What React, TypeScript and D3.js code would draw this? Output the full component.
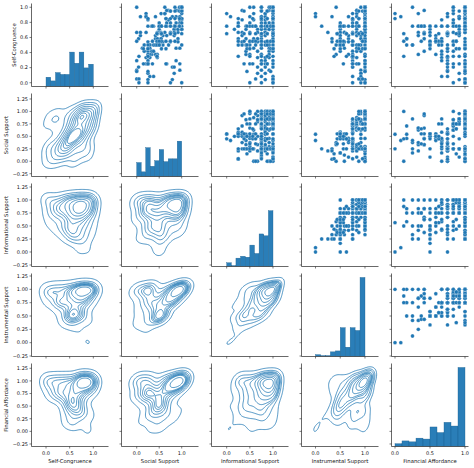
import React, { useMemo } from "react";
import * as d3 from "d3";

// ---------- data (one entry per respondent) ----------
const variables = [
  "Self-Congruence",
  "Social Support",
  "Informational Support",
  "Instrumental Support",
  "Financial Affordance",
];

const selfCongruence = [
  0.917, 0.875, 0.708, 0.667, 0.75, 0.583, 0.5, 0.792, 0.542, 0.667,
  0.5, 0.833, 0.542, 0.958, 0.625, 0.375, 0.5, 0.417, 0.75, 0.708,
  0.583, 0.875, 0.375, 0.792, 0.25, 0.5, 0.542, 0, 0.75, 0.667,
  1, 0.458, 0.583, 0.833, 0.917, 0.542, 0.208, 0.708, 0.333, 0.667,
  0.583, 0.417, 0.125, 0.75, 0.292, 0.167, 0.958, 0.375, 0.875, 0.5,
  0.375, 0.875, 0.458, 0.75, 0.708, 0.25, 1, 0.792, 0.5, 0.583,
  0.625, 0.083, 0.833, 0.542, 0.708, 0.333, 0.667, 0.917, 0.125, 0.292,
  0.667, 0.875, 0.917, 0.5, 0.833, 0.542, 0.75, 0.792, 0.667, 0.208,
  0.042, 0.25, 0.667, 0.625, 0.5, 0.708, 0.958, 0.417, 0.708, 0.542,
  0.375, 0.792, 0.167, 1, 0.458, 0.333, 0.75, 0.875, 0.667, 0.542,
  0.083, 0.917, 0.833, 0.292, 0.958, 0.625, 0.875, 0.583, 0, 0.792,
  0.5, 0.667, 0.958, 0.208, 0.042, 0.708, 0.417, 0.458, 0.75, 0.625,
  0.75, 0.65, 0.75, 0.55, 0.35, 0.85, 0.65, 0.55, 0.95, 0.25,
  0.45, 0.5, 0.15, 0.75, 0.55, 0.45, 0.65, 0.35, 1, 0.55,
  0.25, 0.75, 0.85, 0.65, 0.55, 0.5, 0.75, 0.05, 0.75, 0.55,
  0.25, 0.95, 0.75, 0.65, 0.85, 0, 0.55, 0.75, 0.35, 0.65,
  0.5, 1, 0.75, 0.95, 0.25, 0.85, 0.25, 0.65, 0.75, 0.95,
  0.35, 0.85, 0.5, 0.75, 0.55, 0.65, 0.15, 0.75, 1, 0.45,
  0.55, 0.75, 0.95, 0.25, 0.85, 0.05, 0.75, 0.65, 0.45, 0.85,
  1, 0.55, 0, 0.95, 0.35, 0.85, 0.45, 0.75, 0.65, 1,
];

const socialSupport = [
  0.542, 0.417, 0.5, 0.208, 0.542, 0.042, 0.583, 0.5, 0.25, 0.5,
  0.375, 0.708, 0.542, 0.917, 0.583, 0.333, 0.5, 0.25, 0.542, 0.833,
  0.417, 0.208, 0.458, 0.667, 0.958, 0.292, 0.5, 1, 0.375, 0.75,
  0, 0.875, 0.542, 0.25, 0.625, 0.5, 0.792, 1, 0.208, 0,
  0.917, 0.333, 0.833, 0.5, 0.25, 0.958, 0.708, 0.292, 0.083, 1,
  0.417, 0.875, 0.125, 0.667, 0.917, 0.208, 1, 0.75, 0.167, 0.458,
  0.833, 0.375, 0.958, 0.458, 1, 0.292, 0.625, 0.625, 0.25, 0.875,
  0.542, 0.792, 0.208, 0.708, 1, 0.583, 0.333, 0.958, 0.458, 0.833,
  0.25, 0.667, 0.917, 0.417, 0.292, 0.833, 1, 0.375, 0.917, 0.75,
  0.25, 0.875, 0, 0.625, 0.958, 0.458, 1, 0.208, 0.833, 0.917,
  0.292, 1, 0.708, 0, 0.875, 0.083, 0.958, 0.542, 0.75, 1,
  0.417, 0.083, 0.667, 0.042, 0.792, 1, 0.167, 0.292, 0.833, 0.667,
  0.55, 0.45, 0.25, 0.55, 0.05, 0.65, 0.45, 0.55, 0.95, 0.25,
  0.15, 0.5, 0.25, 0.75, 0.35, 0.55, 1, 0.25, 0.85, 0.45,
  0.65, 0.5, 0.25, 0.55, 0.75, 0.45, 0.95, 0, 0.35, 0.5,
  0.25, 0.85, 0.65, 0.45, 1, 0.05, 0.75, 0.55, 0.25, 0.85,
  0.5, 0.95, 0.35, 1, 0.25, 0.65, 0.15, 0.55, 0.85, 0.75,
  0.45, 1, 0.25, 0.95, 0, 0.75, 0, 0.65, 1, 0.25,
  0.85, 0.95, 1, 0.35, 0.75, 0.05, 0.95, 0.55, 0.25, 0.85,
  1, 0.65, 0.25, 0.75, 0.45, 0.95, 0.65, 0.85, 0.75, 1,
];

const informationalSupport = [
  0, 0.083, 0.167, 0.25, 0.25, 0.25, 0.25, 0.25, 0.333, 0.333,
  0.333, 0.333, 0.333, 0.333, 0.333, 0.417, 0.417, 0.417, 0.417, 0.417,
  0.417, 0.5, 0.5, 0.5, 0.5, 0.5, 0.5, 0.5, 0.5, 0.5,
  0.583, 0.583, 0.583, 0.583, 0.583, 0.667, 0.667, 0.667, 0.667, 0.667,
  0.667, 0.667, 0.667, 0.75, 0.75, 0.75, 0.75, 0.75, 0.75, 0.75,
  0.75, 0.75, 0.75, 0.75, 0.75, 0.75, 0.75, 0.75, 0.75, 0.75,
  0.75, 0.75, 0.75, 0.75, 0.833, 0.833, 0.833, 0.833, 0.833, 0.833,
  0.833, 0.833, 0.833, 0.833, 0.833, 0.833, 0.833, 0.833, 0.833, 0.833,
  0.833, 0.833, 0.833, 0.833, 0.917, 0.917, 0.917, 0.917, 0.917, 0.917,
  0.917, 0.917, 0.917, 0.917, 0.917, 0.917, 1, 1, 1, 1,
  1, 1, 1, 1, 1, 1, 1, 1, 1, 1,
  1, 1, 1, 1, 1, 1, 1, 1, 1, 1,
  0, 0, 0.25, 0.25, 0.25, 0.25, 0.375, 0.375, 0.375, 0.375,
  0.438, 0.438, 0.438, 0.438, 0.5, 0.5, 0.5, 0.5, 0.5, 0.563,
  0.563, 0.563, 0.563, 0.625, 0.625, 0.625, 0.625, 0.625, 0.625, 0.75,
  0.75, 0.75, 0.75, 0.75, 0.75, 0.75, 0.75, 0.75, 0.75, 0.75,
  0.75, 0.75, 0.75, 0.875, 0.875, 0.875, 0.875, 0.875, 0.875, 0.875,
  0.875, 0.875, 0.875, 0.875, 0.875, 0.875, 0.95, 0.95, 0.95, 0.95,
  0.95, 0.95, 1, 1, 1, 1, 1, 1, 1, 1,
  1, 1, 1, 1, 1, 1, 1, 1, 1, 1,
];

const instrumentalSupport = [
  0, 0, 0.5, 0.25, 0.5, 0.333, 0.75, 0.5, 0.333, 0.5,
  0.417, 0.75, 0.583, 1, 0.5, 0.417, 0.5, 0.833, 0.583, 1,
  0.667, 0.333, 0.667, 0.75, 1, 0.833, 0.583, 1, 0.667, 0.75,
  0.417, 0.833, 0.5, 1, 0.75, 0.5, 0.75, 1, 0.833, 0.583,
  1, 0.75, 0.917, 0.5, 0.75, 0.917, 0.833, 1, 0.667, 0.917,
  0.75, 1, 0.583, 0.833, 1, 0.75, 1, 0.833, 0.5, 1,
  0.917, 0.75, 1, 0.667, 1, 0.75, 1, 0.833, 0.917, 1,
  0.583, 0.833, 1, 0.75, 1, 0.5, 0.833, 1, 0.917, 0.75,
  1, 0.833, 1, 0.667, 1, 0.833, 1, 0.917, 1, 0.75,
  1, 0.833, 1, 0.917, 1, 0.75, 1, 1, 0.833, 1,
  0.917, 1, 0.75, 1, 1, 0.833, 1, 0.917, 0.917, 1,
  0.75, 1, 0.833, 1, 0.917, 1, 0.5, 1, 0.833, 1,
  0.5, 0.625, 0.125, 0.5, 0.375, 0.75, 0.438, 0.5, 0.875, 0.563,
  0.375, 0.5, 1, 0.75, 0.438, 0.5, 0.875, 0.625, 1, 0.563,
  0.75, 0.5, 1, 0.438, 0.75, 0.5, 1, 0.875, 0.563, 0.5,
  0.75, 1, 0.875, 0.625, 1, 0.75, 0.95, 0.5, 1, 0.875,
  0.563, 1, 0.75, 1, 0.75, 0.875, 1, 0.625, 1, 0.95,
  0.75, 1, 0.875, 1, 1, 0.75, 1, 0.875, 1, 0.95,
  0.75, 1, 1, 0.875, 1, 0.95, 1, 0.75, 1, 0.875,
  1, 0.95, 1, 1, 0.75, 1, 0.875, 1, 0.95, 1,
];

const financialAffordance = [
  0, 0.083, 0.5, 0.333, 0.75, 1, 1, 0.833, 0.5, 1,
  0.25, 1, 0.5, 1, 0.75, 0.333, 0.5, 0.833, 1, 1,
  0.667, 0.75, 0.583, 1, 1, 0.75, 0.5, 1, 0.333, 0.917,
  1, 1, 0.167, 0.667, 0.833, 0.583, 1, 1, 0.75, 0.75,
  0.417, 0.417, 1, 0.5, 0.75, 1, 0.833, 1, 0.917, 1,
  0.667, 1, 1, 0.333, 1, 0.75, 1, 0.833, 0.25, 0.167,
  0.917, 0.667, 1, 0.583, 1, 0.75, 0.833, 0.333, 0.917, 1,
  0.5, 0.917, 0.75, 0.167, 1, 0.667, 0.417, 1, 0.417, 0.833,
  1, 1, 1, 0.583, 0.667, 0.917, 1, 0.75, 1, 0.833,
  1, 1, 0.75, 0.833, 1, 0.667, 1, 1, 0.917, 1,
  0.75, 1, 0.833, 0.667, 1, 0.5, 0.917, 0.583, 0.833, 1,
  0.25, 0.75, 0.417, 0.75, 0.917, 1, 0.667, 0.75, 0.833, 0.333,
  0.5, 0.75, 0.25, 0.5, 1, 1, 0.417, 0.583, 1, 0.75,
  0.875, 0.5, 0.75, 0.667, 0.375, 0.5, 0.125, 0.833, 0.25, 0.625,
  1, 0.583, 0, 0.417, 0.875, 0.5, 0.417, 1, 0.667, 0.583,
  0.917, 1, 0.375, 0.75, 1, 1, 0.833, 0.375, 0.75, 0.917,
  0.625, 1, 0.75, 1, 0.75, 1, 1, 0.75, 1, 0.917,
  0.917, 1, 0.833, 1, 0.125, 0.625, 1, 0.875, 1, 0.917,
  0.667, 1, 1, 0.833, 1, 1, 1, 0.75, 1, 0.917,
  1, 0.875, 1, 1, 0.125, 1, 0.75, 0.917, 0.875, 0.833,
];

const columns = [
  selfCongruence,
  socialSupport,
  informationalSupport,
  instrumentalSupport,
  financialAffordance,
];

// shared x limits per column and y limits per row (as drawn by the grid)
const colDomains: [number, number][] = [
  [-0.307, 1.321],
  [-0.338, 1.373],
  [-0.328, 1.335],
  [-0.283, 1.273],
  [-0.05, 1.05],
];
const rowDomains: [number, number][] = [
  [-0.05, 1.05],
  [-0.306, 1.36],
  [-0.279, 1.317],
  [-0.259, 1.297],
  [-0.3, 1.345],
];
const xTickValues = [0, 0.5, 1];
const firstRowYTicks = [0, 0.2, 0.4, 0.6, 0.8, 1.0];
const otherRowYTicks = [-0.25, 0, 0.25, 0.5, 0.75, 1.0, 1.25];

// ---------- layout ----------
const W = 474;
const H = 468;
const LEFT0 = 31.5;
const TOP0 = 3.5;
const PITCH_X = 90;
const PITCH_Y = 90;
const AXW = 77;
const AXH = 83;
const BLUE = "#1f77b4";
const AXIS = "#262626";
const KDE_LEVELS = 10;
const KDE_THRESH = 0.05;

function fmt(v: number, digits: number) {
  const s = Math.abs(v).toFixed(digits);
  return v < 0 ? "\u2212" + s : s;
}

function kdeContourPaths(
  xv: number[],
  yv: number[],
  xDom: [number, number],
  yDom: [number, number],
  xs: d3.ScaleLinear<number, number>,
  ys: d3.ScaleLinear<number, number>
): string[] {
  const n = xv.length;
  const mx = d3.mean(xv)!;
  const my = d3.mean(yv)!;
  let sxx = 0,
    syy = 0,
    sxy = 0;
  for (let i = 0; i < n; i++) {
    const dx = xv[i] - mx;
    const dy = yv[i] - my;
    sxx += dx * dx;
    syy += dy * dy;
    sxy += dx * dy;
  }
  sxx /= n - 1;
  syy /= n - 1;
  sxy /= n - 1;
  const factor = Math.pow(n, -1 / 6); // Scott's rule, 2-D
  const f2 = factor * factor;
  const cxx = sxx * f2,
    cyy = syy * f2,
    cxy = sxy * f2;
  const det = cxx * cyy - cxy * cxy;
  const ixx = cyy / det,
    iyy = cxx / det,
    ixy = -cxy / det;

  const nx = 120,
    ny = 120;
  const px = (xDom[1] - xDom[0]) * 0.12;
  const py = (yDom[1] - yDom[0]) * 0.12;
  const x0 = xDom[0] - px,
    x1 = xDom[1] + px;
  const y0 = yDom[0] - py,
    y1 = yDom[1] + py;
  const sx = (x1 - x0) / (nx - 1);
  const sy = (y1 - y0) / (ny - 1);
  const values = new Array(nx * ny).fill(0);
  for (let j = 0; j < ny; j++) {
    const gy = y0 + j * sy;
    for (let i = 0; i < nx; i++) {
      const gx = x0 + i * sx;
      let s = 0;
      for (let k = 0; k < n; k++) {
        const dx = gx - xv[k];
        const dy = gy - yv[k];
        s += Math.exp(-0.5 * (ixx * dx * dx + 2 * ixy * dx * dy + iyy * dy * dy));
      }
      values[j * nx + i] = s;
    }
  }
  // iso-proportion levels
  const sorted = values.slice().sort((a, b) => b - a);
  const total = d3.sum(sorted);
  const cum: number[] = [];
  let acc = 0;
  for (const v of sorted) {
    acc += v;
    cum.push(acc / total);
  }
  const qs = d3.range(KDE_LEVELS).map(
    (k) => KDE_THRESH + (k * (1 - KDE_THRESH)) / (KDE_LEVELS - 1)
  );
  const levels = qs
    .filter((q) => q < 0.999)
    .map((q) => {
      const idx = Math.min(d3.bisectLeft(cum, 1 - q), sorted.length - 1);
      return sorted[idx];
    });
  const contours = d3.contours().size([nx, ny]).thresholds(levels)(values);
  const toPx = (p: number[]) =>
    `${xs(x0 + (p[0] - 0.5) * sx).toFixed(2)},${ys(y0 + (p[1] - 0.5) * sy).toFixed(2)}`;
  const paths: string[] = [];
  contours.forEach((c) => {
    let d = "";
    c.coordinates.forEach((poly) => {
      poly.forEach((ring) => {
        d += "M" + ring.map(toPx).join("L") + "Z";
      });
    });
    if (d) paths.push(d);
  });
  return paths;
}

export default function App() {
  const model = useMemo(() => {
    const nv = variables.length;
    const xScales = colDomains.map((d, i) =>
      d3
        .scaleLinear()
        .domain(d)
        .range([LEFT0 + i * PITCH_X, LEFT0 + i * PITCH_X + AXW])
    );
    const yScales = rowDomains.map((d, j) =>
      d3
        .scaleLinear()
        .domain(d)
        .range([TOP0 + j * PITCH_Y + AXH, TOP0 + j * PITCH_Y])
    );
    const hists = columns.map((v) => {
      const [mn, mx] = d3.extent(v) as [number, number];
      const th = d3.range(1, 10).map((k) => mn + (k * (mx - mn)) / 10);
      return d3.bin().domain([mn, mx]).thresholds(th)(v);
    });
    const maxCount = d3.max(hists.flat(), (b) => b.length)!;
    const kdes: { i: number; j: number; paths: string[] }[] = [];
    for (let j = 1; j < nv; j++) {
      for (let i = 0; i < j; i++) {
        kdes.push({
          i,
          j,
          paths: kdeContourPaths(
            columns[i],
            columns[j],
            colDomains[i],
            rowDomains[j],
            xScales[i],
            yScales[j]
          ),
        });
      }
    }
    return { xScales, yScales, hists, maxCount, kdes };
  }, []);

  const { xScales, yScales, hists, maxCount, kdes } = model;
  const nv = variables.length;
  const cells: React.ReactNode[] = [];

  for (let j = 0; j < nv; j++) {
    for (let i = 0; i < nv; i++) {
      const left = LEFT0 + i * PITCH_X;
      const top = TOP0 + j * PITCH_Y;
      const bottom = top + AXH;
      const xs = xScales[i];
      const ys = yScales[j];
      const clipId = `clip-${j}-${i}`;
      const content: React.ReactNode[] = [];
      if (i === j) {
        const hs = d3
          .scaleLinear()
          .domain([0, maxCount * 1.05])
          .range([bottom, top]);
        hists[i].forEach((b, k) => {
          if (b.length === 0) return;
          content.push(
            <rect
              key={`h${k}`}
              x={xs(b.x0!)}
              y={hs(b.length)}
              width={xs(b.x1!) - xs(b.x0!)}
              height={bottom - hs(b.length)}
              fill={BLUE}
              fillOpacity={0.95}
              stroke="#1a5e8e"
              strokeWidth={0.35}
            />
          );
        });
      } else if (i > j) {
        const xv = columns[i];
        const yv = columns[j];
        xv.forEach((x, k) => {
          content.push(
            <circle
              key={`p${k}`}
              cx={xs(x)}
              cy={ys(yv[k])}
              r={1.9}
              fill={BLUE}
              stroke="#ffffff"
              strokeWidth={0.25}
            />
          );
        });
      } else {
        const kd = kdes.find((k) => k.i === i && k.j === j)!;
        kd.paths.forEach((d, k) => {
          content.push(
            <path
              key={`c${k}`}
              d={d}
              fill="none"
              stroke={BLUE}
              strokeWidth={0.8}
              strokeLinejoin="round"
            />
          );
        });
      }
      const yTicks = j === 0 ? firstRowYTicks : otherRowYTicks;
      const yDigits = j === 0 ? 1 : 2;
      cells.push(
        <g key={`cell-${j}-${i}`}>
          <clipPath id={clipId}>
            <rect x={left} y={top} width={AXW} height={AXH} />
          </clipPath>
          <g clipPath={`url(#${clipId})`}>{content}</g>
          <line x1={left} x2={left} y1={top} y2={bottom} stroke={AXIS} strokeWidth={0.7} />
          <line x1={left} x2={left + AXW} y1={bottom} y2={bottom} stroke={AXIS} strokeWidth={0.7} />
          {xTickValues.map((t) => (
            <g key={`xt${t}`}>
              <line x1={xs(t)} x2={xs(t)} y1={bottom} y2={bottom + 2} stroke={AXIS} strokeWidth={0.6} />
              {j === nv - 1 && (
                <text x={xs(t)} y={bottom + 8.3} fontSize={5} textAnchor="middle" fill="#111">
                  {fmt(t, 1)}
                </text>
              )}
            </g>
          ))}
          {yTicks.map((t) => (
            <g key={`yt${t}`}>
              <line x1={left - 2} x2={left} y1={ys(t)} y2={ys(t)} stroke={AXIS} strokeWidth={0.6} />
              {i === 0 && (
                <text x={left - 3.5} y={ys(t) + 1.8} fontSize={5} textAnchor="end" fill="#111">
                  {fmt(t, yDigits)}
                </text>
              )}
            </g>
          ))}
        </g>
      );
    }
  }

  const yLabelX = [14, 6, 6, 6, 6];

  return (
    <svg
      width={W}
      height={H}
      viewBox={`0 0 ${W} ${H}`}
      style={{ position: "absolute", left: 0, top: 0, background: "#ffffff" }}
      fontFamily="'DejaVu Sans', sans-serif"
    >
      <rect x={0} y={0} width={W} height={H} fill="#ffffff" />
      {cells}
      {variables.map((name, k) => (
        <text
          key={`xl${k}`}
          x={LEFT0 + k * PITCH_X + AXW / 2}
          y={462.5}
          fontSize={5.3}
          textAnchor="middle"
          fill="#111"
        >
          {name}
        </text>
      ))}
      {variables.map((name, k) => {
        const cy = TOP0 + k * PITCH_Y + AXH / 2;
        return (
          <text
            key={`yl${k}`}
            transform={`translate(${yLabelX[k] + 1.8},${cy}) rotate(-90)`}
            fontSize={5.3}
            textAnchor="middle"
            fill="#111"
          >
            {name}
          </text>
        );
      })}
    </svg>
  );
}
